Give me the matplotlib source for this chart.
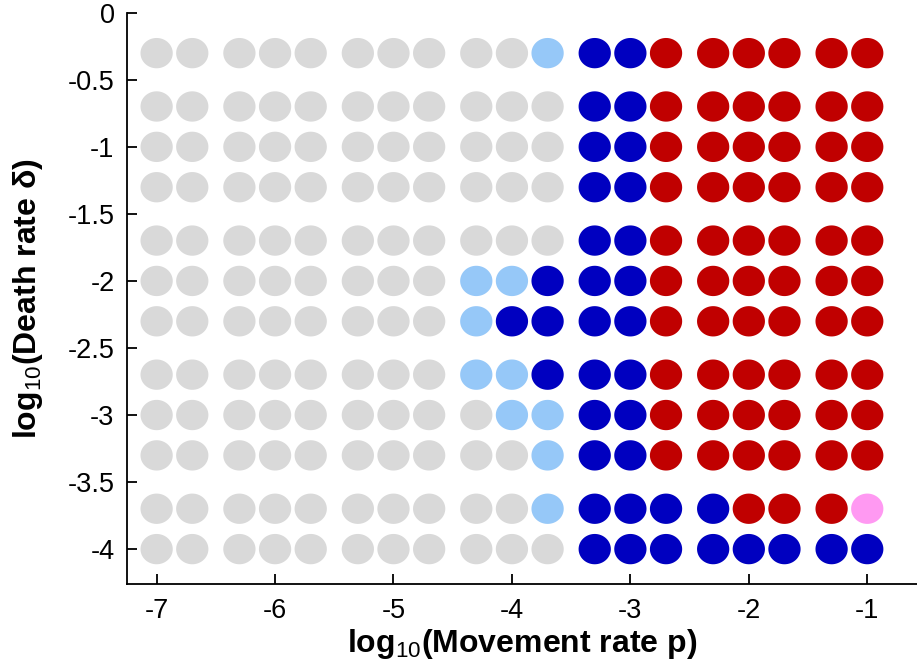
import numpy as np
from matplotlib import pyplot as plt
from matplotlib.path import Path

plt.rcParams['font.family'] = ['Liberation Sans', 'DejaVu Sans']
plt.rcParams['mathtext.fontset'] = 'custom'
plt.rcParams['mathtext.rm'] = 'Liberation Sans'

# Movement rates p (columns) and death rates delta (rows, top to bottom)
movement_rates = [1e-7, 2e-7, 5e-7, 1e-6, 2e-6, 5e-6, 1e-5, 2e-5, 5e-5,
                  1e-4, 2e-4, 5e-4, 1e-3, 2e-3, 5e-3, 1e-2, 2e-2, 5e-2, 1e-1]
death_rates = [0.5, 0.2, 0.1, 0.05, 0.02, 0.01, 0.005, 0.002, 0.001, 5e-4, 2e-4, 1e-4]

# Outcome class of each grid point, one string per death rate
outcomes = [
    "GGGGGGGGGGLBBRRRRRR",
    "GGGGGGGGGGGBBRRRRRR",
    "GGGGGGGGGGGBBRRRRRR",
    "GGGGGGGGGGGBBRRRRRR",
    "GGGGGGGGGGGBBRRRRRR",
    "GGGGGGGGLLBBBRRRRRR",
    "GGGGGGGGLBBBBRRRRRR",
    "GGGGGGGGLLBBBRRRRRR",
    "GGGGGGGGGLLBBRRRRRR",
    "GGGGGGGGGGLBBRRRRRR",
    "GGGGGGGGGGLBBBBRRRP",
    "GGGGGGGGGGGBBBBBBBB",
]

colours = {"G": "#d9d9d9", "L": "#96c8f8", "B": "#0000c0", "R": "#c00000", "P": "#ff99f2"}

x = np.log10(movement_rates)
y = np.log10(death_rates)

# slightly flattened circle marker
theta = np.linspace(0, 2 * np.pi, 60)
ellipse = Path(np.column_stack([np.cos(theta), 0.94 * np.sin(theta)]), closed=True)

fig = plt.figure(figsize=(9.17, 6.72), dpi=100)
ax = fig.add_axes([0.1385, 0.131, 0.8615, 0.85])

for code, colour in colours.items():
    xs, ys = [], []
    for j, row in enumerate(outcomes):
        for i, c in enumerate(row):
            if c == code:
                xs.append(x[i])
                ys.append(y[j])
    ax.scatter(xs, ys, s=540, marker=ellipse, color=colour, edgecolors="none", clip_on=False)

ax.set_xlim(-7.25, -0.58)
ax.set_ylim(-4.26, 0)
ax.set_xticks([-7, -6, -5, -4, -3, -2, -1])
ax.set_xticklabels(["-7", "-6", "-5", "-4", "-3", "-2", "-1"])
ax.set_yticks([0, -0.5, -1, -1.5, -2, -2.5, -3, -3.5, -4])
ax.set_yticklabels(["0", "-0.5", "-1", "-1.5", "-2", "-2.5", "-3", "-3.5", "-4"])
ax.tick_params(direction="in", length=7, width=1.3, labelsize=19.5)
ax.tick_params(axis="y", pad=9)
ax.tick_params(axis="x", pad=10)

for side in ["top", "right"]:
    ax.spines[side].set_visible(False)
for side in ["left", "bottom"]:
    ax.spines[side].set_linewidth(1.3)

ax.set_xlabel(r"log$_{10}$(Movement rate p)", fontsize=23, fontweight="bold", labelpad=2)
ax.set_ylabel(r"log$_{10}$(Death rate δ)", fontsize=23, fontweight="bold", labelpad=16)

plt.savefig("out.png", dpi=100)
